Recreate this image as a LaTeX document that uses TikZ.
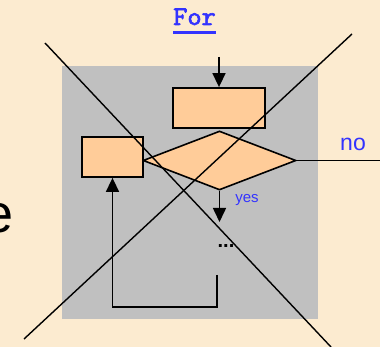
\documentclass[tikz,border=0pt]{standalone}
\usepackage{fontspec}
\setmainfont{Liberation Sans}
\newfontfamily\courierlike{lmmono10-regular.otf}[FakeBold=2.2]
\usepackage{tikz}
\usetikzlibrary{arrows.meta,positioning,shapes.geometric}
\definecolor{slidebg}{HTML}{FCEBD0}
\definecolor{panelgray}{HTML}{C0C0C0}
\definecolor{boxorange}{HTML}{FFCC99}
\definecolor{linkblue}{HTML}{3333FF}
\tikzset{
  box/.style={draw, line width=1.8pt, fill=boxorange, inner sep=0pt},
  cond/.style={diamond, draw, line width=1.6pt, fill=boxorange, inner sep=0pt},
  arrow/.style={-{Triangle[length=14pt,width=13pt]}, line width=1.6pt},
  plain/.style={line width=1.6pt},
  cross/.style={line width=1.4pt},
  lbl/.style={text=linkblue, inner sep=0pt},
}

\begin{document}
\begin{tikzpicture}[x=1pt, y=-1pt]
  % CANVAS
  \fill[slidebg] (0,0) rectangle (380,347);
  \useasboundingbox (0,0) rectangle (380,347);
  \clip (0,0) rectangle (380,347);
  \node[anchor=base east, inner sep=0pt] (bigletter) at (14,233) {\fontsize{54}{54}\selectfont e};

  % TITLE
  \node[lbl, anchor=base] (forlabel) at (194.5,25) {\courierlike\fontsize{27}{27}\selectfont For};
  \draw[linkblue, line width=3pt] ([yshift=-7.5pt]forlabel.base west) -- ([yshift=-7.5pt]forlabel.base east);

  % PANEL
  \fill[panelgray] (62,66) rectangle (318,319);

  % FLOW
  \coordinate (entry) at (219,57);
  \node[box, minimum width=92pt, minimum height=40pt] (init) at (219,108) {};
  \node[cond, minimum width=153pt, minimum height=59pt] (test) at (219.5,160.5) {};
  \node[box, minimum width=61pt, minimum height=40pt] (update) at (112.5,157) {};
  \coordinate (exit) at (381,160.5);
  \coordinate (yesend) at (219.5,222);
  \node[inner sep=0pt, anchor=base] (dots) at (226,248) {\bfseries\fontsize{20}{20}\selectfont ...};
  \coordinate (loopstart) at (217,275);

  \draw[arrow] (entry) -- (init);
  \draw[plain] (test.east) -- (exit);
  \draw[arrow] (test.south) -- (yesend);
  \draw[arrow] (loopstart) -- ++(0,32) -| (update.south);

  % LABELS
  \node[lbl, anchor=base] (nolabel) at (353,151) {\fontsize{23}{23}\selectfont no};
  \node[lbl, anchor=base] (yeslabel) at (247,203) {\fontsize{15}{15}\selectfont yes};

  % CROSS-OUT
  \coordinate (crossA1) at (45,43);
  \coordinate (crossA2) at (331,347);
  \coordinate (crossB1) at (352,34);
  \coordinate (crossB2) at (24,339);
  \draw[cross] (crossA1) -- (crossA2);
  \draw[cross] (crossB1) -- (crossB2);
\end{tikzpicture}
\end{document}
